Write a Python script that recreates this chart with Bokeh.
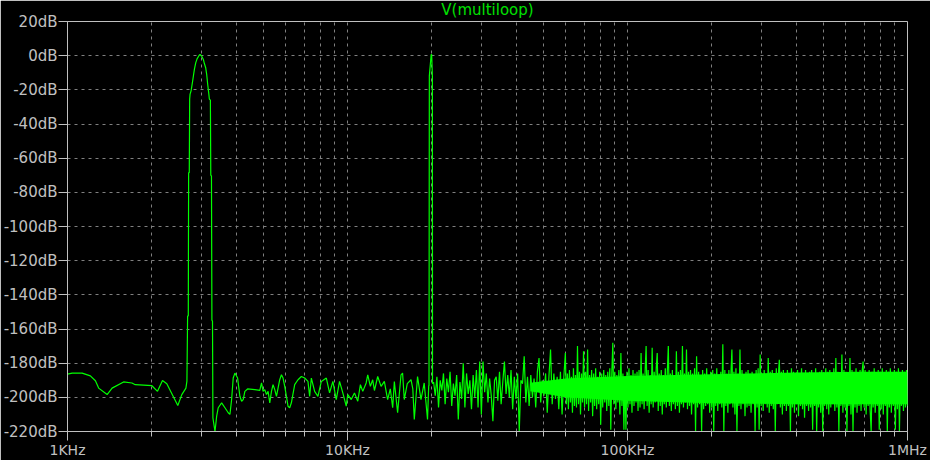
import numpy as np
from bokeh.plotting import figure
from bokeh.models import Range1d, FixedTicker, PrintfTickFormatter, CustomJSTickFormatter
from bokeh.embed import file_html
from bokeh.resources import INLINE

title_text = "V(multiloop)"

x_ticks = [1, 10, 100, 1000]
x_tick_labels = ["1KHz", "10KHz", "100KHz", "1MHz"]
x_minor_ticks = [m * d for d in (1, 10, 100) for m in (2, 3, 4, 5, 6, 7, 8, 9)]
y_ticks = [20, 0, -20, -40, -60, -80, -100, -120, -140, -160, -180, -200, -220]

# spectrum from 1 kHz to just below 20 kHz: (frequency kHz, level dB)
low_pts = [
    (1.000, -186.4), (1.039, -185.8), (1.128, -185.8), (1.207, -187.4), (1.258, -190.3),
    (1.292, -194.6), (1.385, -198.4), (1.443, -194.6), (1.586, -191.0), (1.699, -191.6),
    (1.746, -192.6), (2.002, -193.2), (2.096, -196.5), (2.184, -190.1), (2.263, -192.0),
    (2.477, -204.8), (2.560, -198.4), (2.648, -194.6), (2.670, -190.5),
    # 3 kHz tone
    (2.685, -152.4), (2.700, -152.4), (2.708, -68.5), (2.722, -68.5), (2.731, -25.4),
    (2.740, -22.5), (2.763, -20.6), (2.793, -15.8), (2.816, -11.9), (2.839, -8.0),
    (2.870, -4.2), (2.902, -1.9), (2.950, 0.1), (2.974, 0.7), (3.015, -0.3),
    (3.056, -2.2), (3.082, -4.6), (3.116, -7.1), (3.141, -10.9), (3.167, -16.7),
    (3.193, -21.6), (3.211, -25.4), (3.238, -26.0), (3.249, -69.9), (3.267, -70.5),
    (3.279, -154.8), (3.295, -155.5), (3.306, -212.0), (3.363, -220.0),
    # floor 3.4 kHz .. 20 kHz
    (3.410, -211.0), (3.454, -206.1), (3.552, -203.2), (3.650, -206.1), (3.750, -209.0),
    (3.803, -210.0), (3.856, -201.3), (3.907, -188.7), (3.962, -185.8), (4.050, -188.7),
    (4.128, -199.4), (4.186, -202.3), (4.241, -201.3), (4.300, -196.5), (4.396, -195.1),
    (4.667, -195.5), (4.862, -195.9), (4.931, -191.6), (4.995, -196.5), (5.065, -195.5),
    (5.136, -198.4), (5.204, -196.5), (5.277, -203.2), (5.351, -196.5), (5.421, -192.6),
    (5.499, -195.5), (5.576, -199.4), (5.649, -194.6), (5.728, -189.7), (5.809, -186.8),
    (5.886, -188.7), (5.968, -193.6), (6.052, -199.4), (6.131, -205.2), (6.217, -206.1),
    (6.303, -203.2), (6.477, -192.6), (6.656, -189.7), (6.844, -187.8), (7.031, -188.7),
    (7.224, -190.7), (7.326, -199.4), (7.428, -188.7), (7.632, -196.5), (7.842, -199.4),
    (8.064, -190.7), (8.402, -188.7), (8.630, -197.4), (8.867, -190.7), (9.117, -201.3),
    (9.366, -190.7), (9.623, -197.4), (9.895, -205.2), (10.02, -198.4), (10.31, -201.3),
    (10.59, -197.4), (10.88, -202.3), (11.12, -192.6), (11.34, -196.5), (11.66, -191.6),
    (11.81, -186.8), (12.07, -193.6), (12.30, -189.7), (12.48, -196.0), (12.82, -187.8),
    (13.18, -193.6), (13.54, -190.7), (13.91, -201.3), (14.22, -195.0), (14.50, -206.1),
    (14.70, -190.7), (15.10, -209.0), (15.53, -186.8), (15.73, -185.8), (15.95, -201.3),
    (16.35, -192.0), (16.86, -189.7), (17.11, -195.0), (17.32, -213.0), (17.79, -187.8),
    (18.30, -201.3), (18.79, -191.6), (19.31, -213.0), (19.50, -193.3),
]

# 20 kHz tone
spike_f = [19.55, 19.60, 19.90, 19.98, 20.10, 20.12]
spike_db = [-193.0, -12.0, 0.6, 0.6, -12.0, -192.0]

# noise floor samples 20.3 kHz .. 60 kHz (dB), read left to right
noise_a_db = [
    -191, -199, -188, -206, -190, -196, -186, -204, -189, -197,
    -185, -205, -192, -199, -187, -213, -191, -201, -180, -206,
    -186, -198, -190, -207, -187, -200, -184, -206, -179, -210,
    -179, -197, -186, -203, -189, -199, -214, -190, -188, -202,
    -185, -204, -191, -179, -198, -187, -200, -184, -207, -188,
    -201, -186, -220, -190, -192, -176, -203, -188, -205, -187,
    -200, -189, -206, -185, -177, -203, -190, -199, -186, -209,
    -188, -172, -204, -186, -201, -188, -207, -185, -210, -189,
]

# noise floor samples 60 kHz .. 1 MHz (dB), read left to right
noise_b_db = [
    -174, -204, -186, -207, -184, -203, -188, -209, -183, -205, -187, -206, -170, -204, -185, -210, -186, -203, -173, -206,
    -185, -204, -172, -208, -187, -203, -184, -211, -186, -205, -183, -207, -188, -204, -185, -216, -186, -206, -184, -203,
    -187, -208, -185, -205, -183, -219, -186, -168, -204, -185, -207, -187, -203, -184, -210, -174, -205, -186, -219, -188,
    -219, -185, -206, -183, -204, -187, -209, -184, -205, -186, -203, -185, -208, -184, -206, -174, -204, -186, -207, -185,
    -170, -205, -184, -209, -187, -204, -171, -206, -185, -203, -183, -174, -208, -186, -205, -184, -210, -187, -204, -183,
    -206, -185, -170, -205, -186, -208, -184, -204, -187, -207, -173, -205, -185, -209, -184, -204, -170, -206, -186, -203,
    -172, -207, -185, -205, -184, -210, -186, -204, -183, -220, -176, -206, -185, -204, -187, -220, -184, -207, -186, -205,
    -183, -204, -187, -209, -185, -206, -184, -220, -186, -205, -183, -208, -187, -204, -185, -206, -169, -220, -184, -205,
    -186, -209, -184, -204, -187, -172, -206, -185, -210, -183, -220, -186, -205, -172, -207, -184, -204, -187, -211, -185,
    -206, -184, -205, -186, -209, -185, -204, -187, -220, -184, -206, -183, -219, -175, -205, -186, -208, -184, -204, -187,
    -206, -177, -209, -185, -205, -184, -207, -186, -220, -183, -204, -187, -178, -206, -185, -210, -184, -205, -186, -208,
    -184, -205, -187, -220, -183, -206, -185, -209, -186, -204, -184, -211, -187, -205, -183, -207, -186, -212, -184, -205,
    -187, -208, -185, -206, -184, -219, -186, -205, -183, -220, -187, -206, -185, -209, -184, -220, -186, -205, -183, -207,
    -185, -210, -184, -206, -186, -204, -183, -208, -177, -206, -185, -220, -186, -205, -175, -209, -184, -206, -185, -220,
    -186, -205, -177, -210, -184, -220, -185, -206, -183, -209, -186, -205, -184, -208, -185, -179, -206, -184, -210, -186,
    -205, -184, -208, -220, -185, -206, -183, -209, -186, -205, -184, -219, -185, -207, -183, -210, -186, -205, -184, -220,
    -185, -206, -183, -209, -186, -205, -184, -219, -185, -207, -183, -220, -186, -205, -184, -208, -185, -206, -184, -205,
]

# sample frequencies of the two noise stretches (kHz)
noise_a_f = np.geomspace(20.3, 60.0, len(noise_a_db), endpoint=False)
noise_b_f = np.geomspace(60.0, 1000.0, len(noise_b_db))

# solid core of the dense noise band (kHz, lower dB, upper dB)
core_f = [45, 60, 100, 200, 400, 700, 1000]
core_lo = [-196.5, -200, -202, -203.5, -204, -204, -204]
core_hi = [-191.5, -189, -187.5, -186.5, -185.5, -185, -185]

trace_f = [f for f, _ in low_pts] + spike_f + list(noise_a_f) + list(noise_b_f)
trace_db = [d for _, d in low_pts] + spike_db + noise_a_db + noise_b_db

GRAY = "#c0c0c0"
GRID = "#808080"
GREEN = "#00ff00"

p = figure(width=930, height=460, x_axis_type="log",
           x_range=Range1d(1, 1000), y_range=Range1d(-220, 20),
           output_backend="svg", toolbar_location=None,
           background_fill_color="black", border_fill_color="black",
           min_border_left=64, min_border_right=23, min_border_top=20,
           min_border_bottom=26, title=title_text)

p.title.align = "center"
p.title.vertical_align = "top"
p.title.text_color = "#00e000"
p.title.text_font = "DejaVu Sans"
p.title.text_font_size = "15px"
p.title.text_font_style = "normal"
p.title.standoff = 1
p.outline_line_color = GRAY
p.outline_line_width = 1

xt = FixedTicker(ticks=x_ticks, minor_ticks=x_minor_ticks)
yt = FixedTicker(ticks=y_ticks)
p.xaxis.ticker = xt
p.yaxis.ticker = yt
p.xgrid.ticker = xt
p.ygrid.ticker = yt
p.xaxis.formatter = CustomJSTickFormatter(
    args=dict(tick_vals=x_ticks, tick_names=x_tick_labels),
    code="const i = tick_vals.indexOf(tick); return i >= 0 ? tick_names[i] : '';")
p.yaxis.formatter = PrintfTickFormatter(format="%ddB")

for ax in (p.xaxis[0], p.yaxis[0]):
    ax.axis_line_color = GRAY
    ax.major_tick_line_color = GRAY
    ax.minor_tick_line_color = GRAY
    ax.major_label_text_color = GRAY
    ax.major_label_text_font = "DejaVu Sans"
    ax.major_tick_in = 0
    ax.minor_tick_in = 0
p.xaxis.major_label_text_font_size = "14px"
p.yaxis.major_label_text_font_size = "15px"
p.xaxis.major_tick_out = 9
p.xaxis.minor_tick_out = 5
p.xaxis.major_label_standoff = 1
p.yaxis.major_tick_out = 9
p.yaxis.minor_tick_line_color = None
p.yaxis.major_label_standoff = 1

p.xgrid.grid_line_color = GRID
p.xgrid.grid_line_dash = "3 4"
p.xgrid.minor_grid_line_color = GRID
p.xgrid.minor_grid_line_dash = "3 4"
p.ygrid.grid_line_color = GRID
p.ygrid.grid_line_dash = "3 4"

p.varea(x=core_f, y1=core_lo, y2=core_hi, fill_color=GREEN)
p.line(trace_f, trace_db, line_color=GREEN, line_width=1.2)

open("out.html", "w").write(file_html(p, INLINE))
